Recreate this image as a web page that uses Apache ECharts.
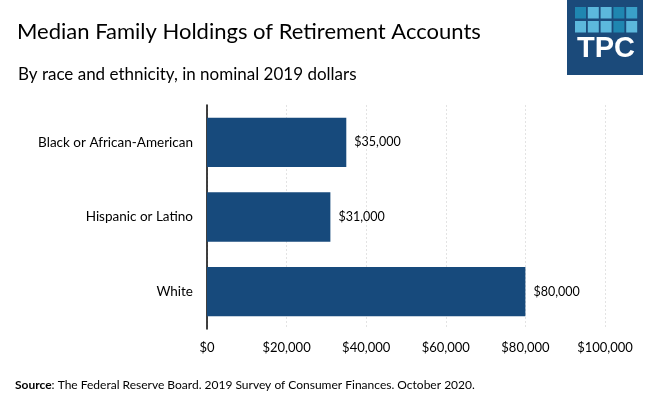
<!DOCTYPE html>
<html><head><meta charset="utf-8">
<script src="https://cdn.jsdelivr.net/npm/echarts@6/dist/echarts.min.js"></script>
<style>html,body{margin:0;padding:0;background:#fff}#c{width:649px;height:393px}</style>
</head><body><div id="c"></div>
<script>
const categories = ["Black or African-American", "Hispanic or Latino", "White"];
const values = [35000, 31000, 80000];
const xTicks = [0, 20000, 40000, 60000, 80000, 100000];

const FONT = 'Lato, "Open Sans", sans-serif';
const fmt = v => '$' + v.toLocaleString('en-US');
const chart = echarts.init(document.getElementById('c'), null, {renderer: 'canvas'});

const sqColors = [
  ['#1f86b0', '#5cb8dc', '#5cb8dc', '#1f86b0', '#3aa0c8'],
  ['#5cb8dc', '#5cb8dc', '#5cb8dc', '#1f86b0', '#5cb8dc']
];
const logo = [{type: 'rect', shape: {x: 567, y: 0, width: 76, height: 75}, style: {fill: '#1b4a7a'}}];
sqColors.forEach((row, r) => row.forEach((c, i) => {
  logo.push({type: 'rect', shape: {x: 575 + i * 12.8, y: 7 + r * 14, width: 11, height: 11.5}, style: {fill: c}});
}));
logo.push({type: 'text', style: {text: 'TPC', x: 606, y: 49, fill: '#fff', font: 'bold 29px "Liberation Sans", Arial, sans-serif', textAlign: 'center', textVerticalAlign: 'middle'}});

chart.setOption({
  animation: false,
  textStyle: {fontFamily: FONT},
  title: [
    {text: 'Median Family Holdings of Retirement Accounts', left: 12, top: 16,
     textStyle: {fontFamily: FONT, fontSize: 22, fontWeight: 'normal', color: '#000'}},
    {text: 'By race and ethnicity, in nominal 2019 dollars', left: 13, top: 61,
     textStyle: {fontFamily: FONT, fontSize: 17, fontWeight: 'normal', color: '#000'}},
    {text: '{b|Source}: The Federal Reserve Board. 2019 Survey of Consumer Finances. October 2020.', left: 10, top: 374,
     textStyle: {fontFamily: FONT, fontSize: 12, fontWeight: 'normal', color: '#000',
       rich: {b: {fontFamily: FONT, fontSize: 12, fontWeight: 'bold', color: '#000'}}}}
  ],
  graphic: logo,
  grid: {left: 207, right: 44, top: 105, bottom: 64, containLabel: false},
  xAxis: {
    type: 'value', min: 0, max: 100000, interval: 20000,
    axisLine: {show: false}, axisTick: {show: false},
    splitLine: {show: true, lineStyle: {color: '#e3e3e3', type: [2, 2], width: 1}},
    axisLabel: {fontFamily: FONT, fontSize: 13, color: '#000', margin: 12,
      formatter: v => xTicks.includes(v) ? fmt(v) : ''}
  },
  yAxis: {
    type: 'category', data: categories, inverse: true,
    axisLine: {show: true, lineStyle: {color: '#000', width: 1.5}},
    axisTick: {show: false},
    axisLabel: {fontFamily: FONT, fontSize: 13.5, color: '#000', margin: 14}
  },
  series: [{
    type: 'bar', data: values, barCategoryGap: '34%',
    itemStyle: {color: '#174a7c'},
    label: {show: true, position: 'right', distance: 8, fontFamily: FONT, fontSize: 12.5, color: '#000',
      formatter: p => fmt(p.value)}
  }]
});
</script></body></html>
